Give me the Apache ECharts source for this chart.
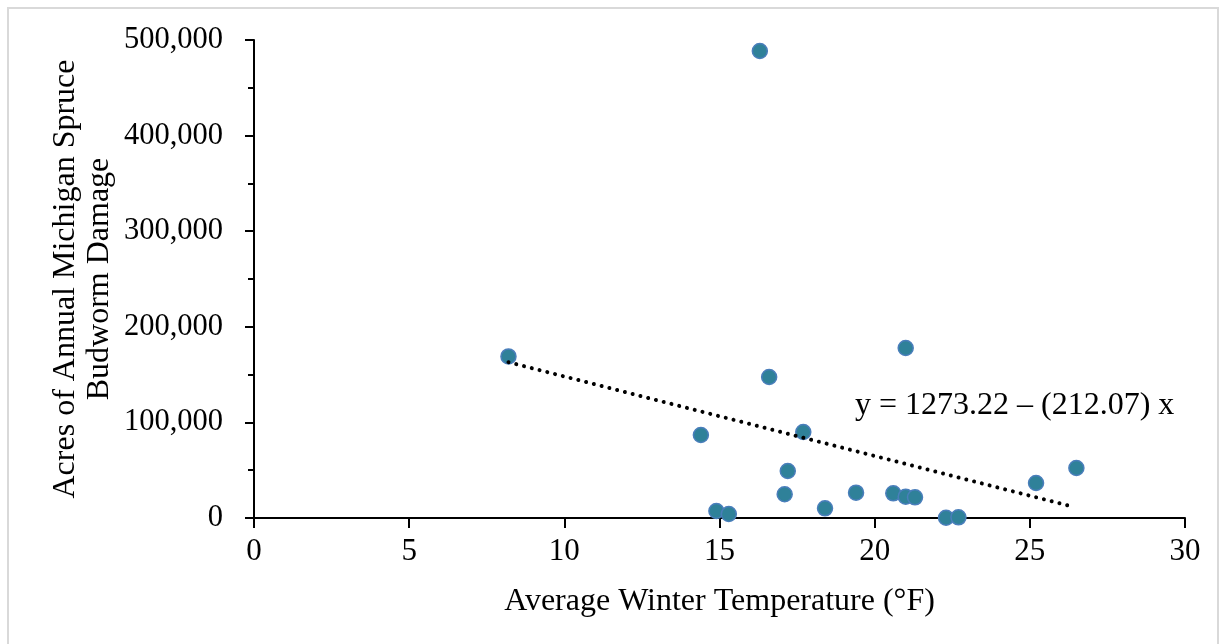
<!DOCTYPE html>
<html>
<head>
<meta charset="utf-8">
<script src="https://cdn.jsdelivr.net/npm/echarts@6/dist/echarts.min.js"></script>
<style>
  html, body { margin: 0; padding: 0; background: #fff; }
  #chart { width: 1227px; height: 644px; }
</style>
</head>
<body>
<div id="chart"></div>
<script>
// average winter temperature (°F) vs acres of budworm damage
const temps = [8.2, 16.3, 14.4, 14.9, 15.3, 16.6, 17.1, 17.2, 17.7, 18.4, 19.4, 20.6, 21.0, 21.3, 22.3, 22.7, 21.0, 25.2, 26.5];
const acres = [169000, 488500, 86800, 7300, 4200, 147500, 24800, 49200, 90000, 10100, 26500, 25800, 22300, 21600, 300, 700, 177800, 36600, 52300];
// trend line ends
const trendX = [8.2, 26.3];
const trendY = [163000, 12500];
const equationText = 'y = 1273.22 – (212.07) x';

const font = '"Liberation Serif", "DejaVu Serif", serif';

const chart = echarts.init(document.getElementById('chart'));

const option = {
  animation: false,
  backgroundColor: '#fff',
  textStyle: { fontFamily: font },
  grid: { left: 254, right: 42, top: 40, bottom: 126 },
  graphic: [
    {
      type: 'rect',
      shape: { x: 8, y: 8, width: 1210, height: 640 },
      style: { fill: 'none', stroke: '#d9d9d9', lineWidth: 2 },
      z: -1
    },
    {
      type: 'text',
      left: 855,
      top: 390,
      style: { text: equationText, font: '32px ' + font, fill: '#000' }
    }
  ],
  xAxis: {
    type: 'value',
    min: 0,
    max: 30,
    interval: 5,
    name: 'Average Winter Temperature (°F)',
    nameLocation: 'middle',
    nameGap: 68,
    nameMoveOverlap: false,
    nameTextStyle: { fontSize: 32, color: '#000', fontFamily: font },
    axisLine: { show: true, onZero: false, lineStyle: { color: '#000', width: 2 } },
    axisTick: { show: true, length: 10, lineStyle: { color: '#000', width: 2 } },
    axisLabel: { fontSize: 31, color: '#000', margin: 18, fontFamily: font },
    splitLine: { show: false }
  },
  yAxis: {
    type: 'value',
    min: 0,
    max: 500000,
    interval: 100000,
    name: 'Acres of Annual Michigan Spruce\nBudworm Damage',
    nameLocation: 'middle',
    nameGap: 137,
    nameMoveOverlap: false,
    nameRotate: 90,
    nameTextStyle: { fontSize: 32, color: '#000', fontFamily: font, lineHeight: 34 },
    axisLine: { show: true, lineStyle: { color: '#000', width: 2 } },
    axisTick: { show: true, length: 9, lineStyle: { color: '#000', width: 2 } },
    minorTick: { show: true, splitNumber: 2, length: 6, lineStyle: { color: '#000', width: 2 } },
    axisLabel: {
      fontSize: 30.5,
      color: '#000',
      margin: 31,
      fontFamily: font,
      formatter: v => v.toLocaleString('en-US')
    },
    splitLine: { show: false }
  },
  series: [
    {
      type: 'scatter',
      symbol: 'circle',
      symbolSize: 15,
      itemStyle: { color: '#2f8199', borderColor: '#4a7ebb', borderWidth: 1.5, opacity: 1 },
      data: temps.map((t, i) => [t, acres[i]]),
      z: 2
    },
    {
      type: 'line',
      symbol: 'none',
      silent: true,
      lineStyle: { color: '#000', width: 4, type: [0.01, 8], cap: 'round' },
      data: trendX.map((t, i) => [t, trendY[i]]),
      z: 3
    }
  ]
};

chart.setOption(option);
window.addEventListener('resize', () => chart.resize());
</script>
</body>
</html>
